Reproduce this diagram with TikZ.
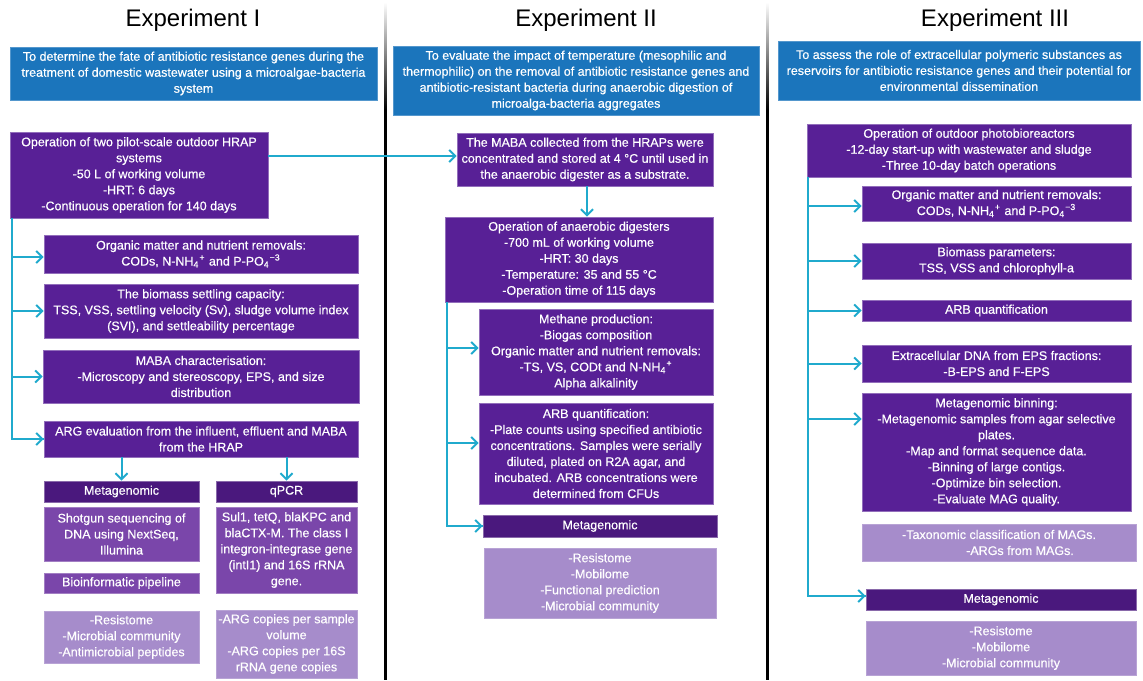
\documentclass[tikz,border=0pt]{standalone}
\usepackage{fontspec}
\setmainfont{Liberation Sans}
\newfontfamily\bodyfam{Liberation Sans}[BoldFont={Liberation Sans}, BoldFeatures={FakeBold=0.45}]
\usetikzlibrary{arrows.meta}

\definecolor{aimblue}{RGB}{27,117,188}
\definecolor{stepviolet}{RGB}{88,32,150}
\definecolor{headviolet}{RGB}{74,24,125}
\definecolor{midviolet}{RGB}{122,70,170}
\definecolor{paleviolet}{RGB}{166,140,203}
\definecolor{linkcyan}{RGB}{32,170,205}

\newcommand{\bodyfont}{\bodyfam\bfseries\fontsize{6.25pt}{8pt}\selectfont}
\newcommand{\titlefont}{\fontsize{12pt}{14pt}\selectfont}

% box given by its corners (x1,y1) and (x2,y2), in pixel units
\newcommand{\panel}[7]{%
  \pgfmathsetmacro\pw{(#5-#3)*0.5}%
  \pgfmathsetmacro\ph{(#6-#4)*0.5}%
  \pgfmathsetmacro\pcx{(#3+#5)/2}%
  \pgfmathsetmacro\pcy{(#4+#6)/2}%
  \node[#2, minimum width=\pw pt, minimum height=\ph pt] (#1) at (\pcx,\pcy) {#7};}

\tikzset{
  basebox/.style={inner sep=0pt, align=center, font=\bodyfont, text=white, line width=0.4pt},
  aimbox/.style={basebox, fill=aimblue, draw=aimblue!75!white},
  stepbox/.style={basebox, fill=stepviolet, draw=stepviolet!65!white},
  headbox/.style={basebox, fill=headviolet, draw=headviolet!65!white},
  midbox/.style={basebox, fill=midviolet, draw=midviolet!70!white},
  palebox/.style={basebox, fill=paleviolet, draw=paleviolet!80!white},
  title/.style={font=\titlefont, text=black, inner sep=0pt},
  link/.style={draw=linkcyan, line width=1pt, -{Straight Barb[length=3pt,width=6pt]}},
  trunk/.style={draw=linkcyan, line width=1pt},
}

\begin{document}
\begin{tikzpicture}[x=0.5pt, y=-0.5pt]
\useasboundingbox (0,0) rectangle (1143,680);
\fill[white] (0,0) rectangle (1143,680);

% column separators
\foreach \sx in {384, 766}{
  \shade[top color=white, bottom color=black] (\sx,2) rectangle (\sx+2.5,110);
  \fill[black] (\sx,110) rectangle (\sx+2.5,680);
}

% ---------------- Experiment I ----------------
\node[title] (t1) at (193,20) {Experiment I};
\panel{aim1}{aimbox}{10}{47}{377}{100}{To determine the fate of antibiotic resistance genes during the\\ treatment of domestic wastewater using a microalgae-bacteria\\ system}
\panel{hrap}{stepbox}{10}{132}{268}{218}{Operation of two pilot-scale outdoor HRAP\\ systems\\ -50 L of working volume\\ -HRT: 6 days\\ -Continuous operation for 140 days}
\panel{org1}{stepbox}{44}{235}{358}{273}{Organic matter and nutrient removals:\\ CODs, N-NH\textsubscript{4}\textsuperscript{+} and P-PO\textsubscript{4}\textsuperscript{−3}}
\panel{settle}{stepbox}{44}{284}{358}{338}{The biomass settling capacity:\\ TSS, VSS, settling velocity (Sv), sludge volume index\\ (SVI), and settleability percentage}
\panel{mabachar}{stepbox}{43}{350}{359}{403}{MABA characterisation:\\ -Microscopy and stereoscopy, EPS, and size\\ distribution}
\panel{argeval}{stepbox}{44}{421}{358}{457}{ARG evaluation from the influent, effluent and MABA\\ from the HRAP}
\panel{meta1}{headbox}{44}{481}{199}{502}{Metagenomic}
\panel{qpcr}{headbox}{216}{481}{357}{502}{qPCR}
\panel{shotgun}{midbox}{44}{507}{199}{561}{Shotgun sequencing of\\ DNA using NextSeq,\\ Illumina}
\panel{bioinf}{midbox}{44}{573}{199}{593}{Bioinformatic pipeline}
\panel{genes}{midbox}{216}{507}{357}{593}{Sul1, tetQ, blaKPC and\\ blaCTX-M. The class I\\ integron-integrase gene\\ (intI1) and 16S rRNA\\ gene.}
\panel{out1}{palebox}{44}{611}{199}{663}{-Resistome\\ -Microbial community\\ -Antimicrobial peptides}
\panel{copies}{palebox}{216}{610}{357}{678}{-ARG copies per sample\\ volume\\ -ARG copies per 16S\\ rRNA gene copies}

\coordinate (tr1) at (12,218);
\draw[trunk] (tr1) |- (argeval.west);
\draw[link] (tr1 |- argeval.west) -- (argeval.west);
\draw[link] (tr1 |- 0,257) -- (org1.west |- 0,257);
\draw[link] (tr1 |- settle.west) -- (settle.west);
\draw[link] (tr1 |- mabachar.west) -- (mabachar.west);
\draw[link] (argeval.south -| meta1.north) -- (meta1.north);
\draw[link] (argeval.south -| qpcr.north) -- (qpcr.north);

% ---------------- Experiment II ----------------
\node[title] (t2) at (586,20) {Experiment II};
\panel{aim2}{aimbox}{393}{46}{759}{115}{To evaluate the impact of temperature (mesophilic and\\ thermophilic) on the removal of antibiotic resistance genes and\\ antibiotic-resistant bacteria during anaerobic digestion of\\ microalga-bacteria aggregates}
\panel{maba}{stepbox}{457}{133}{713}{186}{The MABA collected from the HRAPs were\\ concentrated and stored at 4 °C until used in\\ the anaerobic digester as a substrate.}
\panel{digest}{stepbox}{445}{217}{713}{302}{Operation of anaerobic digesters\\ -700 mL of working volume\\ -HRT: 30 days\\ -Temperature: 35 and 55 °C\\ -Operation time of 115 days}
\panel{methane}{stepbox}{479}{309}{713}{395}{Methane production:\\ -Biogas composition\\ Organic matter and nutrient removals:\\ -TS, VS, CODt and N-NH\textsubscript{4}\textsuperscript{+}\\ Alpha alkalinity}
\panel{arb2}{stepbox}{479}{403}{713}{504}{ARB quantification:\\ -Plate counts using specified antibiotic\\ concentrations. Samples were serially\\ diluted, plated on R2A agar, and\\ incubated. ARB concentrations were\\ determined from CFUs}
\panel{meta2}{headbox}{483}{515}{717}{537}{Metagenomic}
\panel{out2}{palebox}{484}{548}{716}{618}{-Resistome\\ -Mobilome\\ -Functional prediction\\ -Microbial community}

\draw[link] (hrap.east |- 0,156) -- (maba.west |- 0,156);
\draw[link] (maba.south -| 587,0) -- (digest.north -| 587,0);
\coordinate (tr2) at (447,302);
\draw[trunk] (tr2) |- (meta2.west);
\draw[link] (tr2 |- meta2.west) -- (meta2.west);
\draw[link] (tr2 |- 0,348) -- (methane.west |- 0,348);
\draw[link] (tr2 |- 0,443) -- (arb2.west |- 0,443);

% ---------------- Experiment III ----------------
\node[title] (t3) at (995,20) {Experiment III};
\panel{aim3}{aimbox}{778}{41}{1140}{100}{To assess the role of extracellular polymeric substances as\\ reservoirs for antibiotic resistance genes and their potential for\\ environmental dissemination}
\panel{pbr}{stepbox}{807}{124}{1131}{177}{Operation of outdoor photobioreactors\\ -12-day start-up with wastewater and sludge\\ -Three 10-day batch operations}
\panel{org3}{stepbox}{862}{186}{1131}{221}{Organic matter and nutrient removals:\\ CODs, N-NH\textsubscript{4}\textsuperscript{+} and P-PO\textsubscript{4}\textsuperscript{−3}}
\panel{biom}{stepbox}{862}{243}{1131}{279}{Biomass parameters:\\ TSS, VSS and chlorophyll-a}
\panel{arb3}{stepbox}{862}{300}{1131}{321}{ARB quantification}
\panel{edna}{stepbox}{862}{345}{1131}{382}{Extracellular DNA from EPS fractions:\\ -B-EPS and F-EPS}
\panel{binning}{stepbox}{862}{393}{1131}{511}{Metagenomic binning:\\ -Metagenomic samples from agar selective\\ plates.\\ -Map and format sequence data.\\ -Binning of large contigs.\\ -Optimize bin selection.\\ -Evaluate MAG quality.}
\panel{mags}{palebox}{862}{524}{1136}{561}{-Taxonomic classification of MAGs.\\ \hspace*{21pt}-ARGs from MAGs.}
\panel{meta3}{headbox}{866}{589}{1136}{610}{Metagenomic}
\panel{out3}{palebox}{866}{621}{1136}{675}{-Resistome\\ -Mobilome\\ -Microbial community}

\coordinate (tr3) at (808,177);
\draw[trunk] (tr3) |- (meta3.west |- 0,596);
\draw[link] (tr3 |- 0,596) -- (meta3.west |- 0,596);
\draw[link] (tr3 |- 0,206) -- (org3.west |- 0,206);
\draw[link] (tr3 |- biom.west) -- (biom.west);
\draw[link] (tr3 |- arb3.west) -- (arb3.west);
\draw[link] (tr3 |- edna.west) -- (edna.west);
\draw[link] (tr3 |- 0,419) -- (binning.west |- 0,419);
\end{tikzpicture}
\end{document}
